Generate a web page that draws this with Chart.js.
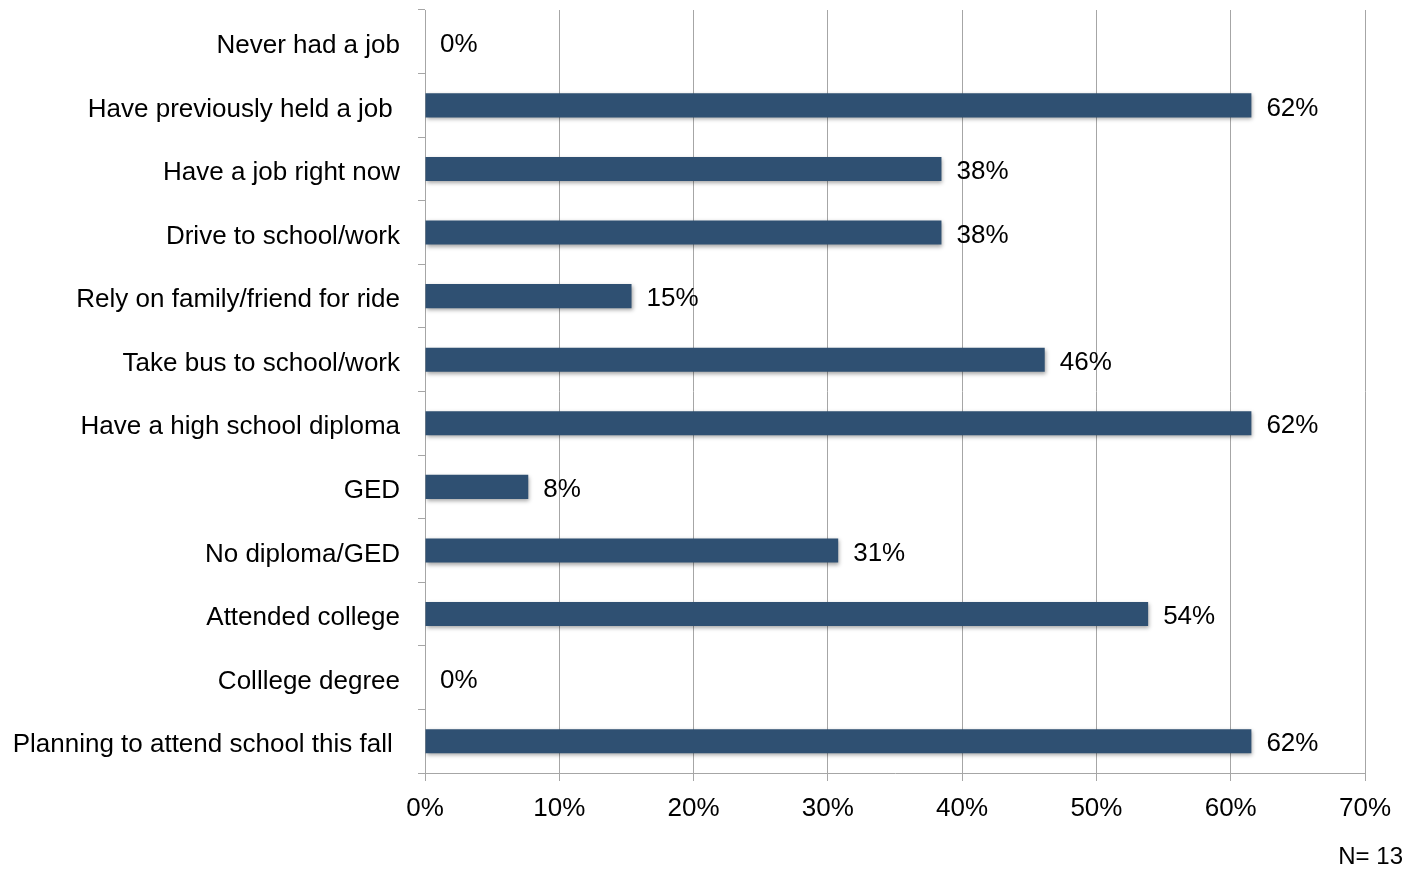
<!DOCTYPE html>
<html>
<head>
<meta charset="utf-8">
<script src="https://cdn.jsdelivr.net/npm/chart.js@4.4.1/dist/chart.umd.min.js"></script>
<style>
  html, body { margin: 0; padding: 0; background: #ffffff; }
  #wrap { position: relative; width: 1413px; height: 871px; }
</style>
</head>
<body>
<div id="wrap"><canvas id="c" width="1413" height="871"></canvas></div>
<script>
const categories = [
  'Never had a job',
  'Have previously held a job ',
  'Have a job right now',
  'Drive to school/work',
  'Rely on family/friend for ride',
  'Take bus to school/work',
  'Have a high school diploma',
  'GED',
  'No diploma/GED',
  'Attended college',
  'Colllege degree',
  'Planning to attend school this fall '
];
const values = [0, 61.54, 38.46, 38.46, 15.38, 46.15, 61.54, 7.69, 30.77, 53.85, 0, 61.54];
const valueLabels = ['0%', '62%', '38%', '38%', '15%', '46%', '62%', '8%', '31%', '54%', '0%', '62%'];
const xTicks = [0, 10, 20, 30, 40, 50, 60, 70];
const footnote = 'N= 13';

const FONT = 'Liberation Sans, Arial, Helvetica, sans-serif';
const FS = 26;

const shadowPlugin = {
  id: 'barShadow',
  beforeDatasetDraw(chart) {
    const ctx = chart.ctx;
    ctx.save();
    ctx.shadowColor = 'rgba(0,0,0,0.35)';
    ctx.shadowBlur = 4;
    ctx.shadowOffsetX = 1;
    ctx.shadowOffsetY = 2;
  },
  afterDatasetDraw(chart) {
    chart.ctx.restore();
  }
};

const labelPlugin = {
  id: 'valueLabels',
  afterDatasetsDraw(chart) {
    const ctx = chart.ctx;
    const meta = chart.getDatasetMeta(0);
    ctx.save();
    ctx.font = FS + 'px ' + FONT;
    ctx.fillStyle = '#000000';
    ctx.textAlign = 'left';
    ctx.textBaseline = 'middle';
    meta.data.forEach((bar, i) => {
      ctx.fillText(valueLabels[i], bar.x + 15, bar.y + 3);
    });
    ctx.font = '24px ' + FONT;
    ctx.textAlign = 'right';
    ctx.fillText(footnote, 1403, 857);
    ctx.restore();
  }
};

new Chart(document.getElementById('c'), {
  type: 'bar',
  data: {
    labels: categories,
    datasets: [{
      data: values,
      backgroundColor: '#2F5072',
      borderWidth: 0,
      barPercentage: 0.38,
      categoryPercentage: 1.0
    }]
  },
  options: {
    indexAxis: 'y',
    responsive: false,
    animation: false,
    layout: { padding: { left: 0, right: 48, top: 10, bottom: 0 } },
    plugins: {
      legend: { display: false },
      tooltip: { enabled: false }
    },
    scales: {
      x: {
        min: 0,
        max: 70,
        afterBuildTicks(scale) { scale.ticks = xTicks.map(v => ({ value: v })); },
        afterFit(scale) { scale.height = 98; scale.paddingLeft = 0; scale.paddingRight = 0; },
        ticks: {
          callback: (v) => v + '%',
          font: { family: FONT, size: FS },
          color: '#000000',
          padding: 12,
          maxRotation: 0
        },
        grid: {
          color: '#a6a6a6',
          lineWidth: 1,
          drawTicks: true,
          tickLength: 8
        },
        border: { color: '#a6a6a6', width: 1 }
      },
      y: {
        afterFit(scale) { scale.width = 425; scale.paddingTop = 0; scale.paddingBottom = 0; },
        ticks: {
          font: { family: FONT, size: FS },
          color: '#000000',
          padding: 18,
          labelOffset: 4,
          autoSkip: false
        },
        grid: {
          offset: true,
          drawOnChartArea: false,
          drawTicks: true,
          tickLength: 7,
          color: '#a6a6a6'
        },
        border: { color: '#a6a6a6', width: 1 }
      }
    }
  },
  plugins: [shadowPlugin, labelPlugin]
});
</script>
</body>
</html>
